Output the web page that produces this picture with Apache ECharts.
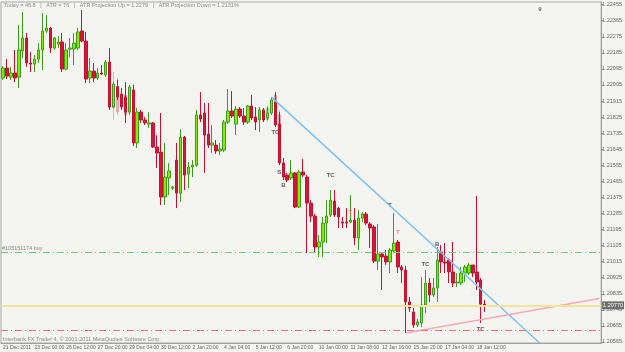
<!DOCTYPE html>
<html>
<head>
<meta charset="utf-8">
<script src="https://cdn.jsdelivr.net/npm/echarts@6/dist/echarts.min.js"></script>
<style>
  html, body { margin: 0; padding: 0; background: #f3f4f0; }
  #chart { width: 625px; height: 352px; }
</style>
</head>
<body>
<div id="chart"></div>
<script>
// 4H bars
const timeLabels = ['21 Dec 2011', '23 Dec 00:00', '26 Dec 12:00', '27 Dec 20:00', '29 Dec 04:00', '30 Dec 12:00',
  '2 Jan 20:00', '4 Jan 04:00', '5 Jan 12:00', '6 Jan 20:00', '10 Jan 00:00', '11 Jan 08:00', '12 Jan 16:00',
  '15 Jan 20:00', '17 Jan 04:00', '18 Jan 12:00'];

const opens = [
  1.22044, 1.22100, 1.22049, 1.22072, 1.22049, 1.22195, 1.22268, 1.22128, 1.22122, 1.22150,
  1.22201, 1.22307, 1.22324, 1.22212, 1.22234, 1.22246, 1.22094, 1.22206, 1.22206, 1.22212,
  1.22307, 1.22251, 1.22044, 1.22083, 1.22044, 1.22072, 1.22061, 1.22134, 1.21881, 1.21995,
  1.21954, 1.21937, 1.21853, 1.21977, 1.21680, 1.21853, 1.21809, 1.21786, 1.21792, 1.21657,
  1.21629, 1.21377, 1.21484, 1.21427, 1.21584, 1.21399, 1.21713, 1.21506, 1.21545, 1.21556,
  1.21837, 1.21848, 1.21730, 1.21668, 1.21668, 1.21635, 1.21640, 1.21797, 1.21859, 1.21786,
  1.21870, 1.21831, 1.21797, 1.21887, 1.21825, 1.21809, 1.21865, 1.21820, 1.21848, 1.21909,
  1.21786, 1.21568, 1.21500, 1.21484, 1.21512, 1.21321, 1.21517, 1.21489, 1.21343, 1.21270,
  1.21097, 1.21125, 1.21231, 1.21276, 1.21355, 1.21315, 1.21237, 1.21237, 1.21237, 1.21248,
  1.21147, 1.21259, 1.21282, 1.21226, 1.21209, 1.21018, 1.21058, 1.21046, 1.21013, 1.21074,
  1.21125, 1.20985, 1.20968, 1.20789, 1.20733, 1.20660, 1.20671, 1.20772, 1.20895, 1.20828,
  1.20867, 1.21069, 1.21013, 1.21024, 1.20957, 1.20895, 1.20895, 1.20951, 1.20951, 1.20996,
  1.20957, 1.20912, 1.20777
];
const closes = [
  1.22100, 1.22055, 1.22072, 1.22044, 1.22201, 1.22268, 1.22128, 1.22122, 1.22150, 1.22201,
  1.22307, 1.22324, 1.22212, 1.22268, 1.22246, 1.22094, 1.22201, 1.22212, 1.22240, 1.22302,
  1.22251, 1.22038, 1.22083, 1.22044, 1.22072, 1.22066, 1.22134, 1.21881, 1.22010, 1.21937,
  1.21881, 1.21853, 1.21993, 1.21680, 1.21853, 1.21809, 1.21792, 1.21792, 1.21657, 1.21624,
  1.21377, 1.21489, 1.21523, 1.21433, 1.21399, 1.21713, 1.21500, 1.21545, 1.21556, 1.21837,
  1.21814, 1.21724, 1.21668, 1.21680, 1.21635, 1.21646, 1.21797, 1.21859, 1.21831, 1.21870,
  1.21831, 1.21797, 1.21887, 1.21820, 1.21797, 1.21865, 1.21809, 1.21848, 1.21921, 1.21781,
  1.21568, 1.21489, 1.21472, 1.21512, 1.21321, 1.21517, 1.21500, 1.21343, 1.21270, 1.21097,
  1.21125, 1.21231, 1.21270, 1.21360, 1.21276, 1.21265, 1.21231, 1.21231, 1.21248, 1.21147,
  1.21259, 1.21282, 1.21231, 1.21203, 1.21018, 1.21058, 1.21041, 1.21013, 1.21080, 1.21119,
  1.20985, 1.20968, 1.20789, 1.20755, 1.20660, 1.20677, 1.20772, 1.20895, 1.20828, 1.20867,
  1.21024, 1.21013, 1.21007, 1.20957, 1.20895, 1.20901, 1.20951, 1.20985, 1.20996, 1.20951,
  1.20901, 1.20777, 1.20772
];
const lows = [
  1.22033, 1.22038, 1.22033, 1.22021, 1.21988, 1.22156, 1.22106, 1.22078, 1.22078, 1.22128,
  1.22089, 1.22296, 1.22184, 1.22201, 1.22212, 1.22078, 1.22089, 1.22162, 1.22117, 1.22201,
  1.22246, 1.22016, 1.22016, 1.22021, 1.22033, 1.22061, 1.22049, 1.21865, 1.21876, 1.21921,
  1.21865, 1.21792, 1.21837, 1.21663, 1.21652, 1.21792, 1.21781, 1.21764, 1.21652, 1.21540,
  1.21332, 1.21332, 1.21388, 1.21416, 1.21315, 1.21349, 1.21416, 1.21427, 1.21489, 1.21545,
  1.21797, 1.21512, 1.21652, 1.21624, 1.21618, 1.21612, 1.21629, 1.21786, 1.21820, 1.21724,
  1.21820, 1.21781, 1.21786, 1.21809, 1.21752, 1.21741, 1.21797, 1.21809, 1.21837, 1.21769,
  1.21556, 1.21472, 1.21461, 1.21472, 1.21315, 1.21315, 1.21489, 1.21063, 1.21237, 1.21069,
  1.21041, 1.21041, 1.21119, 1.21265, 1.21265, 1.21203, 1.21203, 1.21203, 1.21231, 1.21108,
  1.21080, 1.21237, 1.21220, 1.21091, 1.21007, 1.20968, 1.20856, 1.20996, 1.20951, 1.21063,
  1.20951, 1.20895, 1.20615, 1.20733, 1.20643, 1.20648, 1.20648, 1.20727, 1.20789, 1.20817,
  1.20789, 1.20951, 1.20951, 1.20895, 1.20873, 1.20873, 1.20884, 1.20901, 1.20940, 1.20929,
  1.20856, 1.20671, 1.20733
];
const highs = [
  1.22111, 1.22150, 1.22106, 1.22201, 1.22341, 1.22414, 1.22296, 1.22190, 1.22173, 1.22240,
  1.22408, 1.22397, 1.22330, 1.22274, 1.22279, 1.22296, 1.22240, 1.22268, 1.22296, 1.22324,
  1.22425, 1.22302, 1.22156, 1.22128, 1.22100, 1.22117, 1.22145, 1.22212, 1.22021, 1.22033,
  1.21988, 1.22021, 1.22005, 1.22005, 1.21876, 1.21865, 1.21825, 1.21853, 1.21797, 1.21724,
  1.21848, 1.21680, 1.21568, 1.21439, 1.21680, 1.21758, 1.21719, 1.21573, 1.21584, 1.21865,
  1.21965, 1.21904, 1.21904, 1.21781, 1.21696, 1.21680, 1.21809, 1.21982, 1.21971, 1.21887,
  1.21881, 1.21876, 1.21893, 1.21949, 1.21881, 1.21881, 1.21876, 1.21881, 1.21937, 1.21965,
  1.21853, 1.21596, 1.21512, 1.21584, 1.21517, 1.21528, 1.21590, 1.21500, 1.21360, 1.21282,
  1.21164, 1.21265, 1.21360, 1.21416, 1.21416, 1.21321, 1.21265, 1.21315, 1.21388, 1.21315,
  1.21304, 1.21293, 1.21293, 1.21237, 1.21220, 1.21226, 1.21063, 1.21080, 1.21091, 1.21287,
  1.21136, 1.20996, 1.20990, 1.20817, 1.20755, 1.20693, 1.20929, 1.20968, 1.20923, 1.20923,
  1.21097, 1.21108, 1.21119, 1.21035, 1.21125, 1.20951, 1.20985, 1.20996, 1.21007, 1.20996,
  1.21383, 1.20923, 1.20800
];

// faint "ghost" bars behind the main ones: [bar index, open, close, low, high]
const ghostBars = [
  [28, 1.21876, 1.21988, 1.21809, 1.22078],
  [29, 1.21995, 1.21853, 1.21837, 1.22044],
  [31, 1.21949, 1.21837, 1.21792, 1.22021],
  [33, 1.21820, 1.21949, 1.21809, 1.22016],
  [67, 1.21809, 1.21876, 1.21797, 1.21893],
  [69, 1.21949, 1.21820, 1.21781, 1.21965],
  [70, 1.21837, 1.21781, 1.21752, 1.21865]
];

const priceTicks = [1.20565, 1.20655, 1.20745, 1.20835, 1.20925, 1.21015, 1.21105, 1.21195, 1.21285,
  1.21375, 1.21465, 1.21555, 1.21645, 1.21735, 1.21825, 1.21915, 1.22005, 1.22095, 1.22185, 1.22275,
  1.22365, 1.22455];

const buyLevel = 1.21067;
const bidLevel = 1.20770;
const stopLevel = 1.20632;

// trend lines: [bar index, price]
const downTrend = [[68, 1.21937], [136, 1.20558]];
const upTrend = [[102, 1.20615], [151, 1.20808]];

// small letters drawn on the chart: [bar index, price, text, colour]
const notes = [
  [69, 1.21741, 'TC', '#333'], [70, 1.21517, 'S', '#333'], [71, 1.21444, 'B', '#333'],
  [83, 1.21500, 'TC', '#333'], [88, 1.21293, 'T', '#ff5555'], [98, 1.21332, 'T', '#333'],
  [100, 1.21181, 'T', '#ff5555'], [110, 1.21114, 'B', '#333'], [107, 1.20999, 'TC', '#333'],
  [121, 1.20637, 'TC', '#333'], [136, 1.22431, '9', '#7a2848']
];

const N = 152;
const categories = [];
for (let i = 0; i < N; i++) {
  categories.push(i % 8 === 0 && timeLabels[i / 8] ? timeLabels[i / 8] : '');
}
const ghostData = categories.map(() => ['-', '-', '-', '-']);
ghostBars.forEach(g => { ghostData[g[0]] = g.slice(1); });

const FONT = 'Liberation Sans';

const chart = echarts.init(document.getElementById('chart'));
chart.setOption({
  animation: false,
  backgroundColor: '#f3f4f0',
  grid: { left: 0, right: 19, top: 2, bottom: 9, show: true, borderColor: '#a8a8a8', borderWidth: 1 },
  xAxis: {
    type: 'category',
    data: categories,
    axisLine: { lineStyle: { color: '#a0a0a0' } },
    axisTick: { alignWithLabel: true, length: 3, interval: (i, v) => v !== '', lineStyle: { color: '#888' } },
    axisLabel: { interval: (i, v) => v !== '', hideOverlap: false, align: 'left', margin: 2, fontSize: 5, color: '#666', fontFamily: FONT },
    splitLine: { show: false }
  },
  yAxis: {
    type: 'value',
    position: 'right',
    min: 1.20559,
    max: 1.22470,
    splitLine: { show: false },
    axisLine: { show: true, lineStyle: { color: '#a0a0a0' } },
    axisTick: { show: true, length: 2, customValues: priceTicks, lineStyle: { color: '#888' } },
    axisLabel: { customValues: priceTicks, formatter: v => v.toFixed(5), fontSize: 5.5, color: '#666', margin: 1, fontFamily: FONT }
  },
  graphic: [
    { type: 'text', left: 4, top: 2, style: { text: 'Today = 46.8   |   ATR = 76   |   ATR Projection Up = 1.2279   |   ATR Projection Down = 1.2131%', fill: '#8a8a8a', fontSize: 5.5, fontFamily: FONT } },
    { type: 'text', left: 3, top: 336, style: { text: 'Interbank FX Trader 4, \u00a9 2001-2011 MetaQuotes Software Corp.', fill: '#8a8a8a', fontSize: 5.5, fontFamily: FONT } }
  ],
  series: [
    {
      type: 'candlestick',
      data: ghostData,
      barWidth: 3,
      silent: true,
      itemStyle: { color: '#b8e4a8', color0: '#eab4bc', borderColor: '#a8d898', borderColor0: '#e4a4ae', borderWidth: 1 }
    },
    {
      type: 'candlestick',
      data: opens.map((o, i) => [o, closes[i], lows[i], highs[i]]),
      barWidth: 3,
      itemStyle: { color: '#7cf000', color0: '#d8143a', borderColor: '#3c9c1e', borderColor0: '#c8102e', borderWidth: 1 }
    },
    {
      type: 'line', data: downTrend, symbol: 'none', clip: true, silent: true,
      lineStyle: { color: '#7cc0f2', width: 1.5 }
    },
    {
      type: 'line', data: upTrend, symbol: 'none', clip: true, silent: true,
      lineStyle: { color: '#f6a8b8', width: 1.5 },
      markLine: {
        symbol: 'none', silent: true, animation: false, precision: 5,
        data: [
          { yAxis: buyLevel, lineStyle: { color: '#66d466', type: [7, 3, 1, 3], width: 1 },
            label: { show: true, position: 'insideStartTop', formatter: '#105151174 buy', color: '#888', fontSize: 5.5, fontFamily: FONT, distance: 1 } },
          { yAxis: bidLevel, lineStyle: { color: '#f6e39a', type: 'solid', width: 2 },
            label: { show: true, position: 'end', formatter: '1.20770', color: '#fff', backgroundColor: '#6e6e6e', fontSize: 5.5, fontFamily: FONT, padding: [1, 1], distance: 1 } },
          { yAxis: stopLevel, lineStyle: { color: '#ff6b6b', type: [7, 3, 1, 3], width: 1 }, label: { show: false } }
        ]
      }
    },
    {
      type: 'scatter', symbolSize: 0, silent: true,
      data: notes.map(n => ({ value: [n[0], n[1]], name: n[2], label: { color: n[3] } })),
      label: { show: true, formatter: '{b}', fontSize: 6, fontWeight: 'bold', fontFamily: FONT, position: 'inside' }
    }
  ]
});
</script>
</body>
</html>
